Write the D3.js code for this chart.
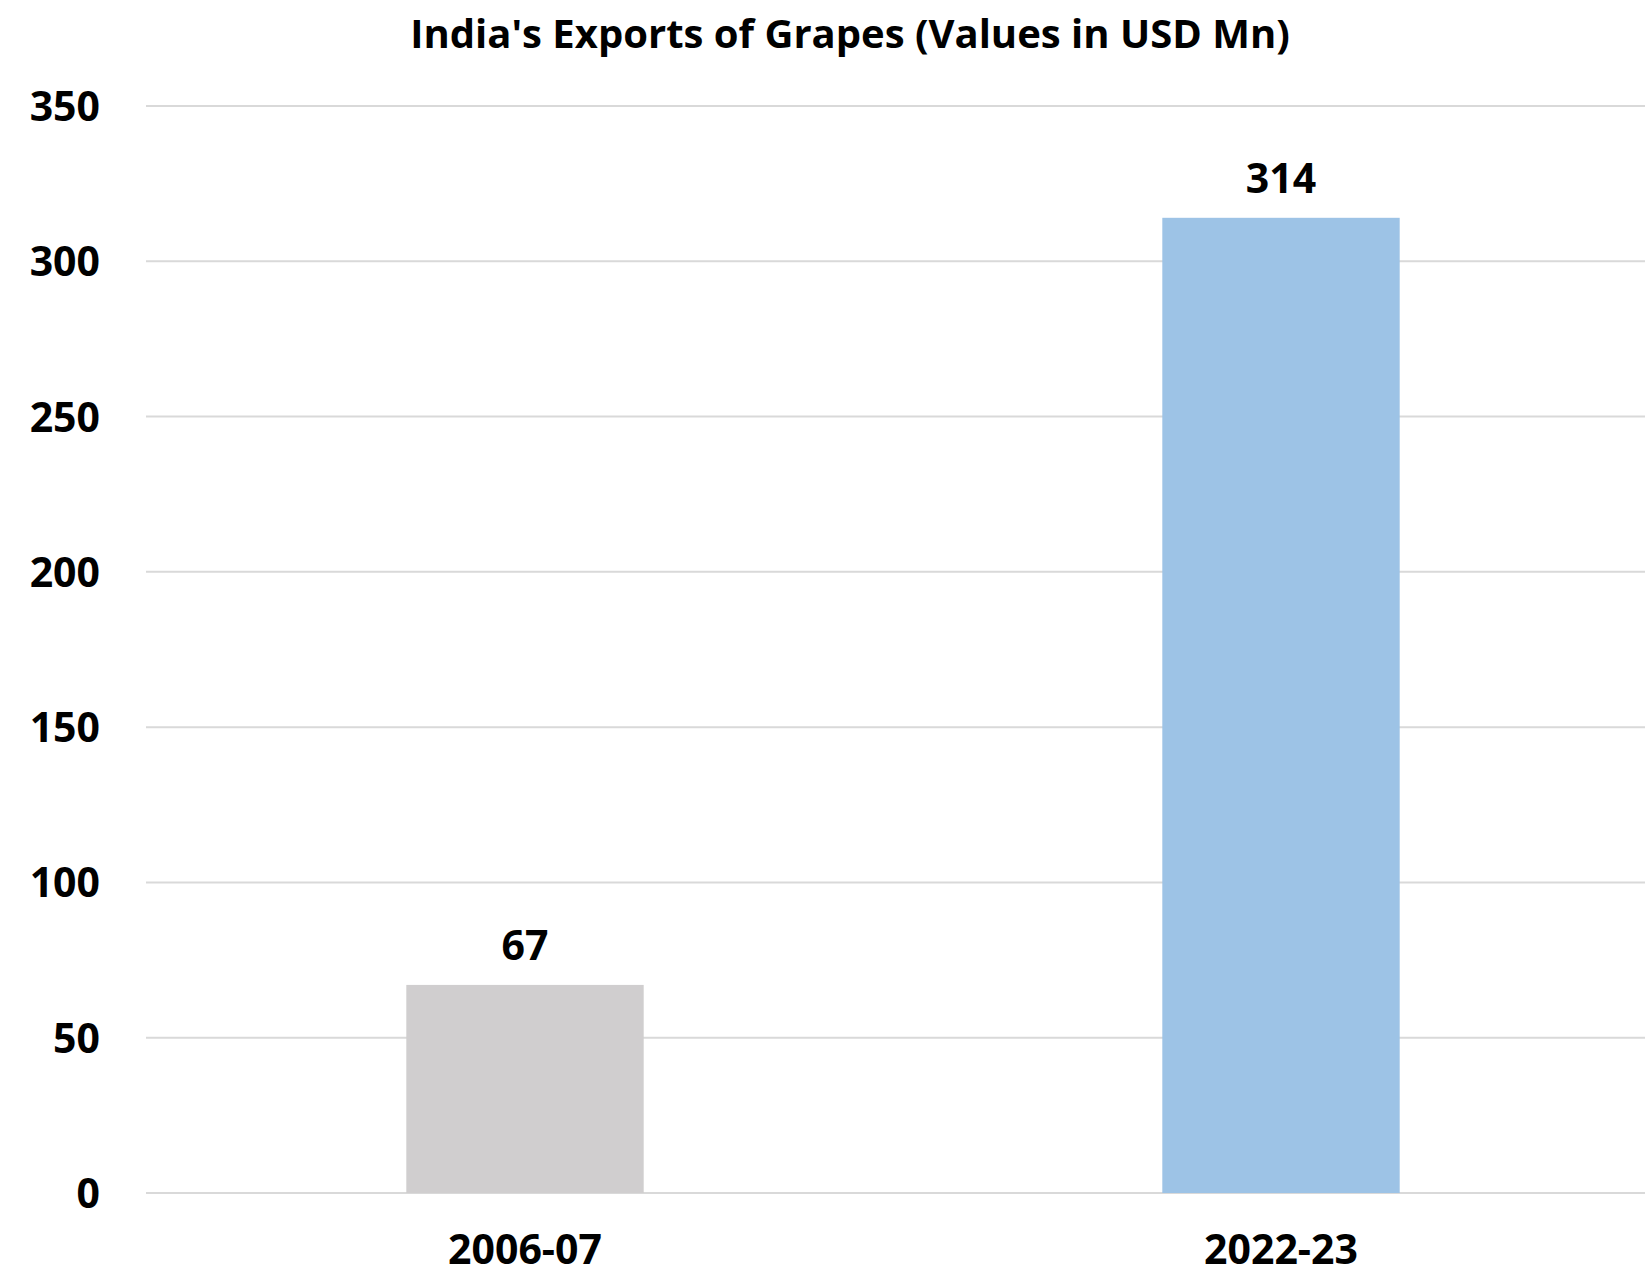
<!DOCTYPE html>
<html>
<head>
<meta charset="utf-8">
<script src="https://cdn.jsdelivr.net/npm/d3@7"></script>
<style>
  body { margin: 0; background: #fff; }
  text { font-family: "Open Sans", "Noto Sans", sans-serif; font-weight: bold; fill: #000; }
</style>
</head>
<body>
<svg id="chart" width="1645" height="1277"></svg>
<script>
'use strict'

var years  = ["2006-07", "2022-23"]
var values = [67, 314]
var colors = ["#d0cecf", "#9dc3e6"]
var ticks  = [0, 50, 100, 150, 200, 250, 300, 350]

var svg = d3.select("#chart")

var x = d3.scaleBand()
    .domain(years)
    .range([147, 1659])
    .paddingInner(0.686)
    .paddingOuter(0.343)

var y = d3.scaleLinear()
    .domain([0, 350])
    .range([1193, 106])

// title
svg.append("text")
    .attr("x", 850)
    .attr("y", 48)
    .attr("text-anchor", "middle")
    .style("font-size", "40px")
    .text("India's Exports of Grapes (Values in USD Mn)")

// gridlines
svg.append("g")
  .selectAll("line")
  .data(ticks)
  .enter()
    .append("line")
    .attr("x1", 146)
    .attr("x2", 1645)
    .attr("y1", d => y(d))
    .attr("y2", d => y(d))
    .attr("stroke", "#d9d9d9")
    .attr("stroke-width", 2)

// y labels
svg.append("g")
  .selectAll("text")
  .data(ticks)
  .enter()
    .append("text")
    .attr("x", 100)
    .attr("y", d => y(d) + 15)
    .attr("text-anchor", "end")
    .style("font-size", "41px")
    .text(d => d)

// bars
svg.append("g")
  .selectAll("rect")
  .data(values)
  .enter()
    .append("rect")
    .attr("x", (d, i) => x(years[i]))
    .attr("y", d => y(d))
    .attr("width", x.bandwidth())
    .attr("height", d => y(0) - y(d))
    .attr("fill", (d, i) => colors[i])

// value labels
svg.append("g")
  .selectAll("text")
  .data(values)
  .enter()
    .append("text")
    .attr("x", (d, i) => x(years[i]) + x.bandwidth() / 2)
    .attr("y", d => y(d) - 25)
    .attr("text-anchor", "middle")
    .style("font-size", "41px")
    .text(d => d)

// x labels (kept just clear of the bottom edge)
svg.append("g")
  .selectAll("text")
  .data(years)
  .enter()
    .append("text")
    .attr("x", d => x(d) + x.bandwidth() / 2)
    .attr("y", 1264)
    .attr("text-anchor", "middle")
    .style("font-size", "41px")
    .text(d => d)
</script>
</body>
</html>
